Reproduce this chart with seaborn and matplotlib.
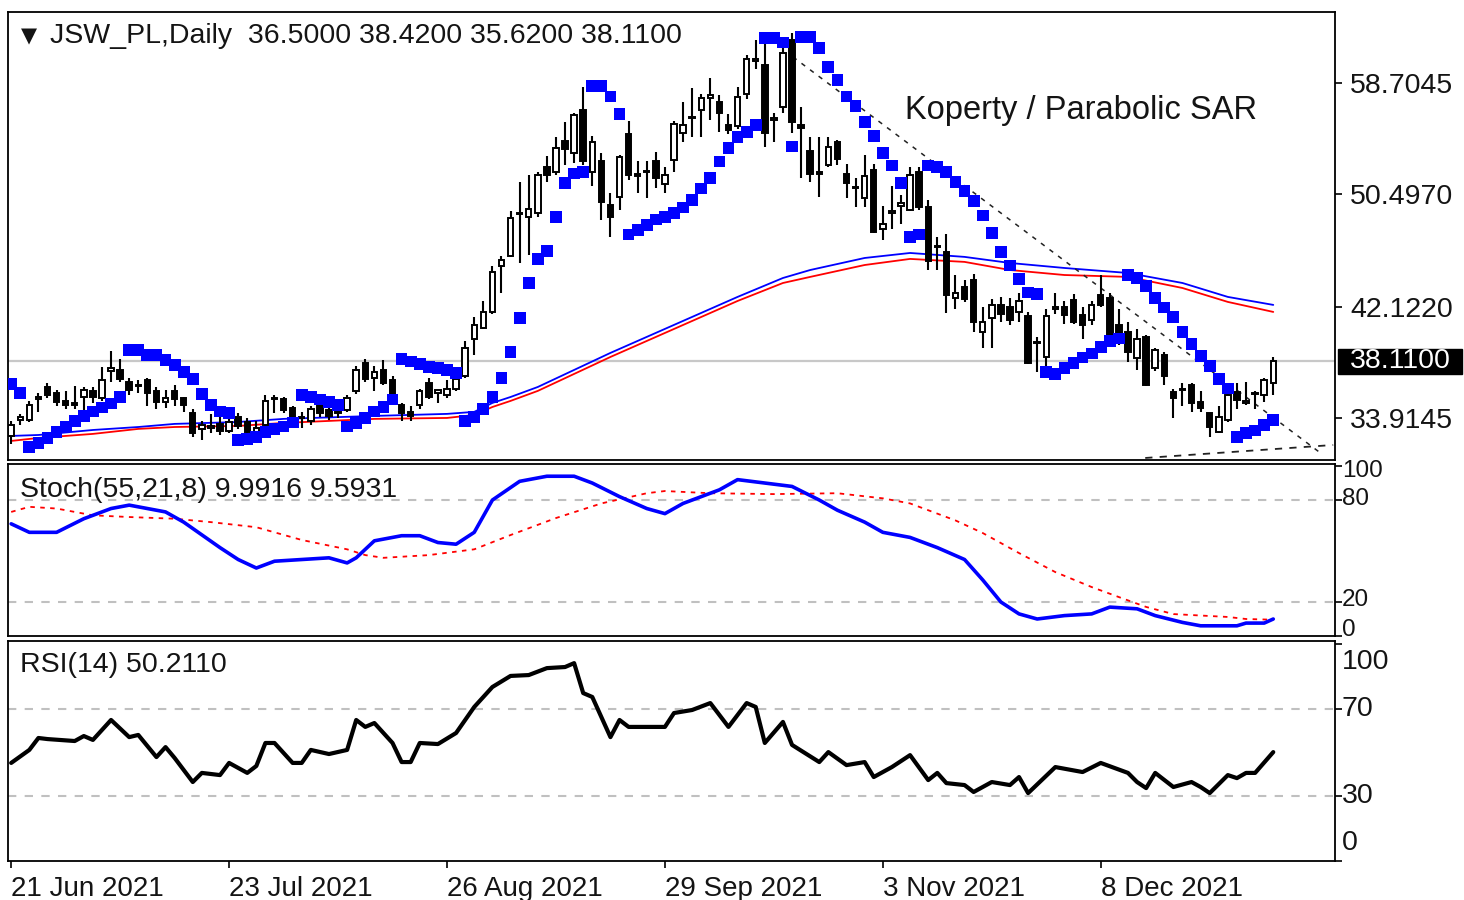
import numpy as np
import pandas as pd
import seaborn as sns
import matplotlib.pyplot as plt
import matplotlib.transforms as mtransforms
from matplotlib.patches import Rectangle

# daily bars, index 0 = 21 Jun 2021
opens = [32.6, 33.8, 33.8, 35.3, 36.2, 35.8, 35.2, 35.0, 35.5, 35.9,
         35.4, 37.4, 37.5, 36.6, 36.3, 36.7, 35.9, 35.1, 35.9, 35.4,
         34.3, 33.1, 33.2, 33.5, 33.0, 34.0, 33.6, 32.9, 33.4, 35.3,
         35.3, 34.7, 34.0, 33.7, 35.1, 34.5, 34.3, 34.5, 35.9, 38.0,
         36.9, 37.5, 36.7, 34.9, 34.4, 34.9, 36.5, 35.8, 35.6, 36.1,
         37.0, 39.8, 40.6, 41.8, 45.2, 45.9, 49.0, 48.8, 49.1, 52.5,
         52.1, 54.4, 53.5, 56.7, 52.1, 52.9, 49.7, 50.3, 54.9, 52.0,
         52.1, 52.9, 51.2, 53.0, 55.0, 56.1, 56.7, 57.6, 57.3, 55.6,
         55.5, 57.9, 60.3, 60.0, 56.0, 56.9, 61.9, 55.6, 53.7, 52.1,
         52.6, 54.3, 52.0, 51.0, 50.2, 52.3, 47.9, 49.1, 49.6, 49.3,
         52.1, 49.5, 46.6, 46.2, 42.8, 43.6, 44.1, 40.3, 41.3, 42.3,
         42.1, 41.8, 41.5, 39.5, 38.4, 42.0, 42.1, 42.65, 41.55, 41.2,
         43.0, 42.8, 40.8, 40.3, 38.35, 39.9, 37.6, 38.6, 35.85, 36.0,
         36.4, 35.1, 34.3, 32.9, 33.8, 35.85, 35.0, 35.7, 35.6, 36.5]
highs = [33.7, 34.2, 35.2, 35.8, 36.5, 36.0, 35.9, 36.3, 36.2, 36.2,
         37.7, 38.9, 38.3, 36.9, 36.7, 36.9, 36.2, 36.0, 36.4, 35.5,
         34.6, 33.7, 34.2, 34.0, 34.0, 34.3, 33.9, 33.7, 35.6, 35.6,
         35.5, 34.8, 34.4, 34.8, 35.5, 34.7, 34.7, 35.6, 37.8, 38.3,
         37.8, 38.2, 37.0, 35.0, 34.8, 36.1, 36.9, 36.0, 36.7, 37.0,
         39.6, 41.4, 42.6, 45.2, 45.9, 49.2, 51.4, 51.9, 52.1, 53.3,
         54.7, 55.8, 56.5, 58.4, 54.8, 53.5, 50.6, 53.4, 55.9, 52.9,
         52.9, 53.6, 52.5, 55.9, 57.3, 58.3, 57.9, 59.1, 57.8, 56.4,
         58.4, 60.8, 61.9, 61.7, 56.5, 61.5, 62.4, 56.9, 54.7, 54.7,
         54.7, 54.5, 52.7, 51.7, 53.4, 52.7, 49.6, 51.1, 50.4, 52.5,
         52.5, 50.05, 47.3, 47.5, 44.5, 44.1, 44.6, 42.1, 42.7, 42.9,
         42.8, 43.2, 41.8, 39.9, 42.0, 43.2, 42.6, 43.1, 42.1, 42.6,
         44.5, 43.2, 42.0, 41.0, 40.5, 40.1, 39.1, 38.8, 36.1, 36.5,
         36.5, 35.9, 34.3, 34.8, 36.1, 36.5, 36.6, 35.9, 36.9, 38.42]
lows = [32.0, 33.4, 33.6, 34.4, 35.4, 34.8, 34.6, 34.6, 34.2, 35.0,
        35.2, 36.6, 36.6, 35.6, 35.8, 34.8, 34.6, 34.7, 34.8, 34.4,
        32.5, 32.3, 32.8, 32.7, 32.8, 33.1, 32.6, 32.6, 33.2, 34.3,
        34.3, 33.4, 33.2, 33.4, 34.0, 33.8, 33.9, 34.4, 35.7, 36.6,
        35.9, 36.4, 35.2, 33.7, 33.7, 34.6, 35.3, 35.0, 35.4, 35.9,
        36.9, 38.6, 40.5, 41.6, 43.2, 45.8, 45.4, 46.0, 48.8, 51.4,
        51.9, 52.6, 52.8, 52.6, 51.1, 48.6, 47.3, 49.3, 51.5, 50.6,
        50.2, 50.9, 50.6, 52.1, 54.3, 54.7, 54.7, 56.0, 55.1, 54.9,
        55.3, 57.5, 59.7, 54.0, 54.3, 56.5, 55.0, 51.7, 51.4, 50.3,
        52.5, 52.6, 50.2, 49.5, 49.5, 47.6, 47.1, 47.9, 48.3, 49.2,
        49.3, 44.9, 44.9, 41.7, 42.0, 42.5, 40.3, 39.1, 39.1, 41.0,
        40.8, 41.0, 37.9, 37.3, 37.8, 41.6, 40.9, 40.9, 39.8, 40.8,
        42.1, 40.0, 39.3, 38.1, 37.5, 36.3, 37.4, 36.4, 33.9, 34.8,
        34.4, 34.4, 32.5, 32.8, 33.6, 34.6, 34.9, 34.6, 35.1, 35.62]
closes = [33.4, 34.0, 34.9, 35.5, 35.6, 35.1, 34.9, 34.9, 36.0, 35.5,
          36.7, 37.6, 36.8, 36.0, 36.4, 35.8, 35.1, 35.4, 35.3, 34.9,
          32.8, 33.4, 33.3, 33.0, 33.6, 33.3, 32.9, 33.2, 35.2, 35.4,
          34.5, 33.7, 33.9, 34.6, 34.3, 34.1, 34.3, 35.4, 37.5, 36.8,
          37.3, 36.5, 35.5, 34.3, 34.1, 35.9, 35.5, 36.0, 36.1, 36.8,
          39.1, 40.8, 41.8, 44.7, 45.6, 48.7, 49.1, 49.4, 51.9, 51.9,
          53.9, 53.8, 56.3, 52.9, 54.3, 49.9, 48.8, 53.2, 51.9, 51.8,
          52.2, 51.7, 51.9, 55.7, 55.6, 56.2, 57.6, 57.8, 56.5, 55.2,
          57.7, 60.5, 60.5, 55.0, 56.1, 60.9, 55.8, 55.4, 52.0, 52.0,
          54.0, 53.1, 51.3, 50.9, 51.8, 47.7, 48.3, 49.2, 49.8, 51.9,
          49.5, 45.5, 46.6, 43.0, 43.2, 42.7, 41.0, 41.0, 42.3, 41.6,
          41.2, 42.6, 38.0, 39.5, 41.5, 42.1, 41.55, 41.0, 40.8, 42.3,
          42.3, 40.1, 40.1, 38.8, 39.8, 36.4, 38.95, 37.0, 35.4, 36.0,
          35.05, 34.7, 33.25, 34.0, 35.6, 35.25, 35.2, 35.7, 36.75, 38.11]

# parabolic SAR, one dot per bar
sar = [36.45, 35.8, 31.8, 32.1, 32.45, 32.9, 33.3, 33.7, 34.1, 34.4,
       34.7, 35.0, 35.5, 38.95, 38.95, 38.6, 38.6, 38.2, 37.85, 37.3,
       36.8, 35.7, 34.9, 34.4, 34.3, 32.3, 32.35, 32.5, 32.9, 33.1,
       33.3, 33.6, 35.6, 35.5, 35.3, 35.1, 34.9, 33.3, 33.55, 33.9,
       34.4, 34.75, 35.3, 38.3, 38.1, 37.9, 37.7, 37.6, 37.5, 37.25,
       33.7, 34.0, 34.6, 35.5, 36.9, 38.8, 41.3, 43.9, 45.7, 46.3,
       48.8, 51.3, 52.0, 52.1, 58.5, 58.5, 57.7, 56.4, 47.5, 47.8,
       48.2, 48.6, 48.8, 49.1, 49.5, 50.05, 50.9, 51.7, 52.9, 53.9,
       54.7, 55.1, 55.6, 62.0, 62.0, 61.7, 54.0, 62.1, 62.1, 61.3,
       59.9, 58.9, 57.7, 57.0, 55.8, 54.8, 53.5, 52.6, 51.3, 47.3,
       47.5, 52.6, 52.5, 52.1, 51.4, 50.7, 50.0, 48.9, 47.6, 46.2,
       45.2, 44.2, 43.2, 43.1, 37.3, 37.2, 37.6, 38.0, 38.4, 38.7,
       39.2, 39.6, 39.8, 44.5, 44.3, 43.7, 42.8, 42.1, 41.4, 40.3,
       39.4, 38.5, 37.8, 36.8, 36.1, 32.5, 32.8, 33.0, 33.4, 33.8]

# moving averages read at sample bars
ma_bars = [0, 3, 9, 14, 18, 25, 30, 40, 48, 51, 53, 55, 58, 66, 73, 80, 85, 88,
           94, 99, 105, 110, 116, 123, 129, 134, 139]
ma_blue = [32.6, 32.67, 33.04, 33.26, 33.49, 33.63, 33.86, 34.08, 34.23, 34.38,
           35.04, 35.48, 36.22, 38.74, 40.81, 42.88, 44.28, 44.87, 45.76, 46.13,
           45.84, 45.39, 45.02, 44.65, 43.91, 42.88, 42.29]
ma_red = [32.23, 32.45, 32.75, 33.12, 33.26, 33.34, 33.56, 33.86, 33.93, 34.15,
          34.74, 35.19, 35.93, 38.44, 40.51, 42.58, 43.91, 44.36, 45.24, 45.69,
          45.47, 44.87, 44.5, 44.36, 43.54, 42.51, 41.77]

# stochastic (55,21,8)
stoch_k_bars = [0, 2, 5, 8, 11, 13, 17, 19, 23, 25, 27, 29, 32, 35, 37, 38, 40, 43, 45, 47,
                49, 51, 53, 56, 59, 62, 64, 67, 70, 72, 74, 78, 80, 83, 86, 89, 91, 94, 96, 99,
                102, 105, 107, 109, 111, 113, 116, 119, 121, 124, 126, 129, 131, 135, 136, 138, 139]
stoch_k = [66, 61, 61, 69, 75, 77, 73, 67, 52, 45, 40, 44, 45, 46, 43, 46, 56, 59, 59, 55,
           54, 61, 80, 91, 94, 94, 90, 82, 75, 72, 78, 86, 92, 90, 88, 80, 74, 67, 61, 58,
           52, 45, 33, 20, 13, 10, 12, 13, 17, 16, 12, 8, 6, 6, 7.6, 7.6, 9.99]
stoch_d_bars = [0, 2, 5, 9, 13, 18, 22, 27, 32, 37, 39, 41, 46, 51, 55, 60, 65, 70, 72, 77,
                84, 91, 96, 99, 104, 107, 111, 115, 119, 122, 125, 128, 134, 136, 139]
stoch_d = [73, 76, 75, 71, 70, 69, 67, 64, 56.5, 51, 47.6, 46, 47.6, 51, 59.4, 69.4, 78, 84, 85.3, 84,
           83.5, 84, 81, 78, 68, 60.6, 48.8, 37.6, 28.8, 22.9, 17.1, 12.9, 11.2, 10, 9.59]

# RSI(14)
rsi_bars = [0, 2, 3, 4, 7, 8, 9, 11, 13, 14, 16, 17, 18, 20, 21, 23, 24, 26, 27, 28,
            29, 31, 32, 33, 35, 37, 38, 39, 40, 42, 43, 44, 45, 47, 49, 51, 53, 55, 57, 59,
            61, 62, 63, 64, 66, 67, 68, 72, 73, 75, 77, 79, 81, 82, 83, 85, 86, 89, 90, 92,
            94, 95, 97, 99, 101, 102, 103, 105, 106, 108, 110, 111, 112, 115, 118, 120, 123, 124, 125, 126,
            128, 130, 131, 132, 134, 135, 136, 137, 139]
rsi = [45.2, 51.2, 56.7, 56.2, 55.3, 57.6, 55.8, 65, 57.1, 58.1, 47.9, 52.5, 47.5, 36.4, 40.6, 39.6, 45.2, 40.6, 43.8, 54.4,
       54.4, 45.2, 45.2, 51.2, 49.3, 51.2, 65, 61.8, 63.6, 54.4, 45.6, 45.6, 54.4, 53.9, 59, 71, 80.2, 85.3, 85.7, 88.9,
       89.4, 91.2, 77.4, 75.6, 57.1, 65, 61.8, 61.8, 68.2, 69.6, 72.8, 61.8, 72.8, 71, 54.4, 64.1, 53.5, 45.6, 50.2, 44.2,
       45.6, 38.7, 43.3, 48.8, 37.3, 40.6, 35.9, 35, 31.8, 36.4, 35, 38.7, 31.3, 43.3, 41, 45.2, 40.6, 36.4, 33.6, 40.6,
       34.1, 36.4, 34.1, 31.3, 39.6, 38.2, 40.6, 40.6, 50.2]

# hand-drawn trend lines (bar, price)
trend_down_bars = [86.1, 144.2]
trend_down_prices = [60.63, 31.34]
trend_low_bars = [124.9, 145.6]
trend_low_prices = [30.97, 31.93]

date_bars = [0, 24, 48, 72, 96, 120]
date_labels = ['21 Jun 2021', '23 Jul 2021', '26 Aug 2021', '29 Sep 2021', '3 Nov 2021', '8 Dec 2021']
price_ticks = [58.7045, 50.4970, 42.1220, 33.9145]
last_price = 38.11

sns.set_theme(style='white')
plt.rcParams['font.family'] = ['Liberation Sans', 'DejaVu Sans']
TXT = '#141414'
FS = 20.5

df = pd.DataFrame({'bar': np.arange(len(closes)), 'open': opens, 'high': highs,
                   'low': lows, 'close': closes, 'sar': sar})

W, H = 1464, 900
def box(x0, y0, x1, y1):
    return [x0 / W, 1 - y1 / H, (x1 - x0) / W, (y1 - y0) / H]

fig = plt.figure(figsize=(14.64, 9), dpi=100)
ax1 = fig.add_axes(box(8, 12, 1335, 460))
ax2 = fig.add_axes(box(8, 464, 1335, 636))
ax3 = fig.add_axes(box(8, 641, 1335, 861))
xlim = (-0.35, 145.8)

# ---- price panel ----
ax1.axhline(last_price, color='#C8C8C8', lw=1.6, zorder=1)
sns.lineplot(x=ma_bars, y=ma_blue, color='#0000FF', lw=1.3, ax=ax1, zorder=2)
sns.lineplot(x=ma_bars, y=ma_red, color='#FF0000', lw=1.3, ax=ax1, zorder=2)
ax1.plot(trend_down_bars, trend_down_prices, color='#222222', lw=1.1, ls=(0, (3, 4)), zorder=2)
ax1.plot(trend_low_bars, trend_low_prices, color='#222222', lw=1.3, ls=(0, (4, 4)), zorder=2)

ax1.vlines(df['bar'], df['low'], df['high'], color='black', lw=1.5, zorder=3)
body_lo = np.minimum(df['open'], df['close'])
body_h = np.maximum((df['close'] - df['open']).abs(), 0.08)
up = df['close'] >= df['open']
ax1.bar(df['bar'][up], body_h[up], bottom=body_lo[up], width=0.6, color='white',
        edgecolor='black', lw=1.4, zorder=4)
ax1.bar(df['bar'][~up], body_h[~up], bottom=body_lo[~up], width=0.6, color='black',
        edgecolor='black', lw=1.4, zorder=4)

sns.scatterplot(data=df, x='bar', y='sar', marker='s', s=72, color='#0000FF',
                edgecolor='none', ax=ax1, zorder=5)

ax1.set_xlim(*xlim)
ax1.set_ylim(30.82, 63.95)
ax1.yaxis.tick_right()
ax1.set_yticks(price_ticks)
ax1.set_yticklabels([f'{v:.4f}' for v in price_ticks], fontsize=FS, color=TXT)
ax1.set_xticks([])

tr = mtransforms.blended_transform_factory(ax1.transAxes, ax1.transData)
ax1.add_patch(Rectangle((1338 / 1327 - 8 / 1327, last_price - 0.95), 124 / 1327, 1.9,
                        transform=tr, color='black', clip_on=False, zorder=6))
ax1.text((1400 - 8) / 1327, last_price, f'{last_price:.4f}', transform=tr, color='white',
         fontsize=FS, ha='center', va='center', zorder=7, clip_on=False)

ax1.text(0.0155, 0.946, '\u25bc', transform=ax1.transAxes, fontsize=15, color=TXT,
         ha='center', va='center', family=['DejaVu Sans'])
ax1.text(0.0315, 0.946, 'JSW_PL,Daily  36.5000 38.4200 35.6200 38.1100',
         transform=ax1.transAxes, fontsize=FS, color=TXT, va='center')
ax1.text(0.676, 0.781, 'Koperty / Parabolic SAR', transform=ax1.transAxes,
         fontsize=23.5, color=TXT, va='center')

# ---- stochastic panel ----
for lvl in (80, 20):
    ax2.axhline(lvl, color='#C0C0C0', lw=1.5, ls=(0, (4, 4)), zorder=1)
sns.lineplot(x=stoch_d_bars, y=stoch_d, color='#FF0000', lw=1.3, ax=ax2, zorder=2)
ax2.lines[-1].set_linestyle((0, (2.5, 3)))
sns.lineplot(x=stoch_k_bars, y=stoch_k, color='#0000FF', lw=2.6, ax=ax2, zorder=3)
ax2.set_xlim(*xlim)
ax2.set_ylim(0, 101.2)
ax2.set_xticks([])
ax2.yaxis.tick_right()
ax2.set_yticks([100, 80, 20, 0])
ax2.set_yticklabels([])
st_tr = mtransforms.blended_transform_factory(ax2.transAxes, ax2.transData)
for lab, v in [('100', 97.0), ('80', 80.5), ('20', 21.0), ('0', 3.8)]:
    ax2.text(1.005, v, lab, transform=st_tr, fontsize=17.5, color=TXT, va='center', ha='left')
ax2.text(0.009, 0.85, 'Stoch(55,21,8) 9.9916 9.5931', transform=ax2.transAxes,
         fontsize=FS, color=TXT, va='center')

# ---- RSI panel ----
for lvl in (70, 30):
    ax3.axhline(lvl, color='#C0C0C0', lw=1.5, ls=(0, (4, 4)), zorder=1)
sns.lineplot(x=rsi_bars, y=rsi, color='black', lw=3.0, ax=ax3, zorder=3)
ax3.set_xlim(*xlim)
ax3.set_ylim(0, 101.4)
ax3.yaxis.tick_right()
ax3.set_yticks([100, 70, 30, 0])
ax3.set_yticklabels([])
rs_tr = mtransforms.blended_transform_factory(ax3.transAxes, ax3.transData)
for lab, v in [('100', 91.7), ('70', 70), ('30', 30), ('0', 8.3)]:
    ax3.text(1.005, v, lab, transform=rs_tr, fontsize=FS, color=TXT, va='center', ha='left')
ax3.text(0.009, 0.89, 'RSI(14) 50.2110', transform=ax3.transAxes,
         fontsize=FS, color=TXT, va='center')
ax3.set_xticks(date_bars)
ax3.set_xticklabels(date_labels, fontsize=FS - 0.5, color=TXT, ha='left')

for ax in (ax1, ax2, ax3):
    ax.set_xlabel('')
    ax.set_ylabel('')
    ax.tick_params(axis='both', which='both', direction='out', length=5, width=1.2,
                   color='black', pad=6, bottom=(ax is ax3), left=False, right=True)
    for sp in ax.spines.values():
        sp.set_visible(True)
        sp.set_color('black')
        sp.set_linewidth(1.3)
    leg = ax.get_legend()
    if leg is not None:
        leg.remove()

fig.savefig('out.png', dpi=100)
